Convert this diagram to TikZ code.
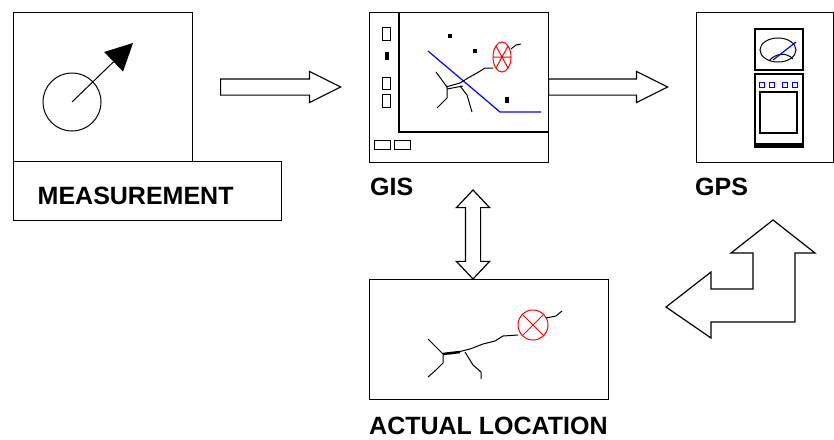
\documentclass[tikz,border=0pt]{standalone}
\usepackage{fontspec}
\setmainfont{Liberation Sans}
\usetikzlibrary{arrows.meta,positioning,shapes.arrows}

\begin{document}
\begin{tikzpicture}[
  x=1pt, y=-1pt,
  font=\fontsize{25}{30}\selectfont\bfseries,
  box/.style={draw, line width=1.4pt, inner sep=0pt, anchor=north west},
  lbl/.style={anchor=west, inner sep=0pt},
  blk/.style={single arrow, draw, line width=1.2pt, inner sep=7.5pt,
    single arrow head extend=7.5pt, single arrow tip angle=53.13,
    minimum height=120pt, anchor=tail},
  dblk/.style={double arrow, draw, line width=1.2pt, inner sep=7pt,
    double arrow head extend=9pt, double arrow tip angle=86.5,
    minimum height=89pt, rotate=90},
  thin/.style={line width=1pt},
  road/.style={line width=1pt, line join=round}
]
\useasboundingbox (0,0) rectangle (834,439);

% boxes
\node[box, minimum width=179pt, minimum height=149pt] (meas) at (13,12) {};
\node[box, minimum width=268pt, minimum height=59pt, text width=220pt,
  text height=26pt, text depth=0pt, inner xsep=24pt, align=left]
  (measlbl) at (13,161) {MEASUREMENT};
\node[box, minimum width=179pt, minimum height=150pt] (gis) at (369,12) {};
\node[box, minimum width=137pt, minimum height=150pt] (gps) at (696,12) {};
\node[box, minimum width=239pt, minimum height=120pt] (actual) at (369,279) {};
\node[lbl] (gislbl) at (370,187) {GIS};
\node[lbl] (gpslbl) at (695,187) {GPS};
\node[lbl] (actlbl) at (369,426) {ACTUAL LOCATION};

% block arrows
\node[blk] (togis) at (220,87) {};
\node[blk, minimum height=119pt] (togps) at (548,87) {};
\node[dblk] (link) at (473,234.5) {};
\draw[line width=1.2pt] (773,220) -- (815,253) -- (795,253) -- (795,322)
  -- (711,322) -- (711,338) -- (666,307) -- (711,272) -- (711,289)
  -- (753,289) -- (753,253) -- (731,253) -- cycle;

% measurement dial
\node[circle, draw, thin, minimum size=58pt, inner sep=0pt] (dial) at (72,102) {};
\coordinate (dialtip) at (133,43);
\draw[thin, -{Triangle[length=27pt, width=27pt]}] (dial.center) -- (dialtip);

% gis screen
\draw[line width=1.4pt] (399,12) -- (399,132) -- (548,132);
\draw[thin] (382,27) rectangle (390,40);
\fill (385,52) rectangle (389,60);
\draw[thin] (382,77) rectangle (390,89);
\draw[thin] (382,94) rectangle (390,107);
\draw[thin] (374,140) rectangle (390,149);
\draw[thin] (394,140) rectangle (410,149);
\fill (448,34) rectangle (452,38);
\fill (473,49) rectangle (477,53);
\fill (505,97) rectangle (509,103);
\draw[blue, line width=1.2pt] (428,51) -- (500,112) -- (541,112);
\draw[road] (493,68) -- (485,68) -- (477,73) -- (468,78) -- (460,83) -- (446,87);
\draw[road] (447,89) -- (463,86);
\draw[road] (436,72) -- (447,87) -- (447,98) -- (437,108);
\draw[road] (460,86) -- (467,95) -- (472,112);
\draw[red, thin] (502,57) ellipse (9 and 15);
\draw[red, thin] (496,46) -- (508,68) (508,46) -- (496,68) (493,57) -- (511,57);
\draw[thin] (511,49) -- (516,45) -- (521,44);

% gps unit
\draw[line width=1.2pt] (755,29) rectangle (803,70);
\draw[thin] (778,50) ellipse (18 and 12);
\draw[thin] (769,61) .. controls (775,53) and (787,52) .. (793,59);
\draw[blue, line width=1.2pt] (773,60) -- (796,42);
\draw[line width=1.2pt] (755,74) rectangle (803,147);
\fill (755,143) rectangle (803,147);
\foreach \x in {759,769,782,792}
  \draw[blue, line width=1.5pt] (\x.5,82.5) rectangle ++(5,5);
\draw[line width=1.2pt] (760,92) rectangle (797,133);

% actual location
\draw[red, thin] (533,325) circle (15);
\draw[red, thin] (522.4,314.4) -- (543.6,335.6) (543.6,314.4) -- (522.4,335.6);
\draw[thin] (546,318) -- (556,316) -- (562,311);
\draw[road] (518,335) -- (503,336) -- (495,341) -- (483,344) -- (470,349) -- (458,352);
\draw[line width=2.5pt] (443,354) -- (460,352);
\draw[road] (428,339) -- (443,354) -- (443,363) -- (436,370) -- (428,377);
\draw[road] (465,352) -- (473,365) -- (481,372) -- (481,379);
\end{tikzpicture}
\end{document}
